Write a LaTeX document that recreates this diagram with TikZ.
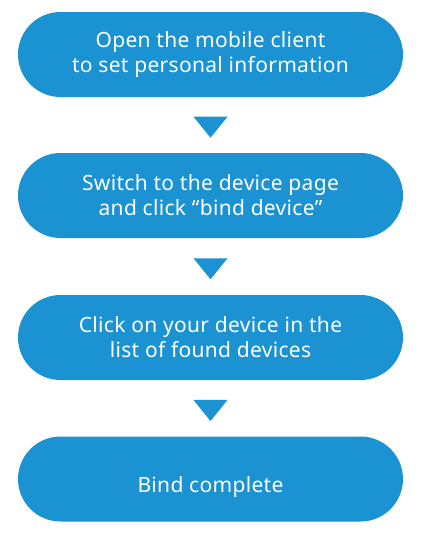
\documentclass[tikz,border=0pt]{standalone}
\usepackage{fontspec}
\setmainfont{Noto Sans}[LetterSpace=1.5]
\usetikzlibrary{calc}
\definecolor{pillblue}{RGB}{27,146,209}
\tikzset{
  pill/.style={fill=pillblue, text=white, minimum width=385pt, minimum height=85pt,
    rounded corners=42.5pt, align=center, inner sep=0pt,
    font=\fontsize{21}{25}\selectfont},
  tri/.style={fill=pillblue}
}
\begin{document}
\begin{tikzpicture}[x=1pt,y=-1pt]
\useasboundingbox (0,0) rectangle (429,533);
\node[pill] (p1) at (210.5,54.5) {Open the mobile client\\to set personal information};
\node[pill] (p2) at (210.5,195.5) {Switch to the device page\\and click “bind device”};
\node[pill] (p3) at (210.5,337.5) {Click on your device in the\\list of found devices};
\node[pill] (p4) at (210.5,479) {\raisebox{-13pt}[0pt][0pt]{Bind complete}};
\foreach \a/\b in {p1/p2,p2/p3,p3/p4}{
  \coordinate (m) at ($(\a.south)!0.54!(\b.north)$);
  \fill[tri] ($(m)+(-17,-10.5)$) -- ($(m)+(17,-10.5)$) -- ($(m)+(0,10.5)$) -- cycle;
}
\end{tikzpicture}
\end{document}
